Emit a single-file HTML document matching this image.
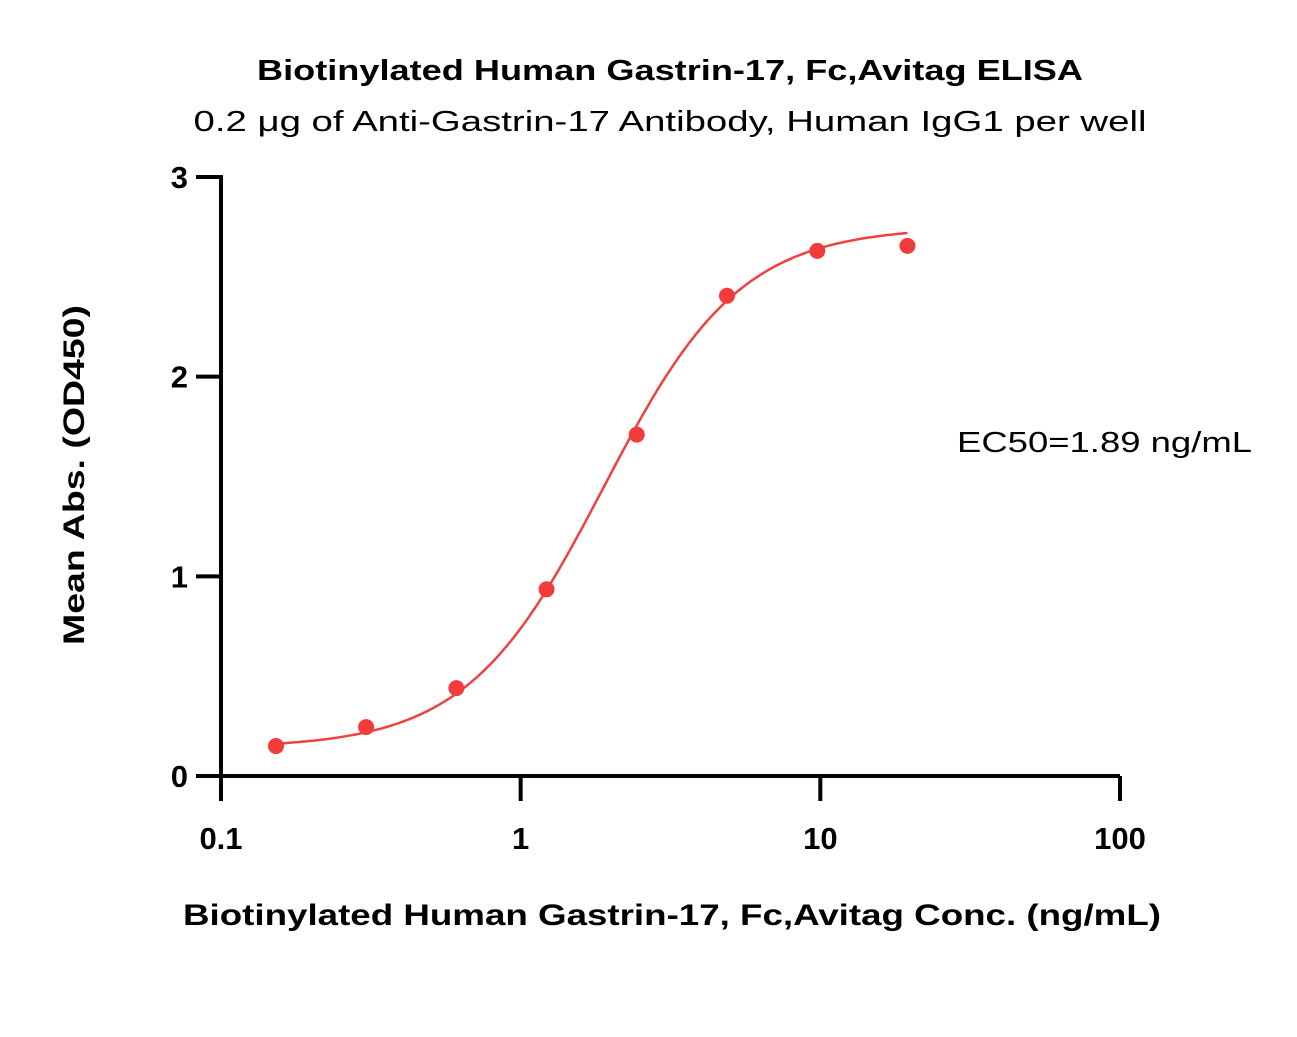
<!DOCTYPE html>
<html><head><meta charset="utf-8"><style>
html,body{margin:0;padding:0;background:#fff}
svg text{font-family:"Liberation Sans",sans-serif;fill:#000}
</style></head><body>
<svg id="chart" width="1297" height="1032" xmlns="http://www.w3.org/2000/svg">
<text x="670" y="80" text-anchor="middle" font-size="29" font-weight="bold" textLength="826" lengthAdjust="spacingAndGlyphs">Biotinylated Human Gastrin-17, Fc,Avitag ELISA</text>
<text x="670" y="131" text-anchor="middle" font-size="29" textLength="953" lengthAdjust="spacingAndGlyphs">0.2 μg of Anti-Gastrin-17 Antibody, Human IgG1 per well</text>
<text transform="translate(84,475) rotate(-90)" text-anchor="middle" font-size="30" font-weight="bold" textLength="340" lengthAdjust="spacingAndGlyphs">Mean Abs. (OD450)</text>
<text x="672" y="925" text-anchor="middle" font-size="30" font-weight="bold" textLength="978" lengthAdjust="spacingAndGlyphs">Biotinylated Human Gastrin-17, Fc,Avitag Conc. (ng/mL)</text>
<text x="957" y="452" font-size="29" textLength="295" lengthAdjust="spacingAndGlyphs">EC50=1.89 ng/mL</text>
<g id="axes"></g>
<g id="plot"></g>
</svg>
<script>
const concs = [0.1526, 0.305, 0.61, 1.22, 2.44, 4.88, 9.77, 19.53];
const absValues = [0.15, 0.245, 0.44, 0.935, 1.71, 2.405, 2.63, 2.655];
const xTicks = [0.1, 1, 10, 100];
const xTickLabels = ["0.1", "1", "10", "100"];
const yTicks = [0, 1, 2, 3];
const yTickLabels = ["0", "1", "2", "3"];
const fitBottom = 0.14, fitTop = 2.75, fitEC50 = 1.89, fitHill = 1.9;

const NS = "http://www.w3.org/2000/svg";
const X0 = 221, X1 = 1120, Y0 = 776, Y1 = 177;
function xs(v){ return X0 + (Math.log10(v) - Math.log10(0.1)) / 3 * (X1 - X0); }
function ys(v){ return Y0 - v / 3 * (Y0 - Y1); }
function mk(tag, attrs, parent){ const e = document.createElementNS(NS, tag); for (const k in attrs) e.setAttribute(k, attrs[k]); parent.appendChild(e); return e; }
const axes = document.getElementById('axes'), plot = document.getElementById('plot');

let l = mk('line', {x1:X0, y1:Y0, x2:X1, y2:Y0, stroke:'#000', 'stroke-width':4}, axes);


l = mk('line', {x1:X0, y1:Y0+2, x2:X0, y2:Y1-2, stroke:'#000', 'stroke-width':4}, axes);



xTicks.forEach((t, i) => {
  const x = xs(t);
  const tk = mk('line', {x1:x, y1:Y0, x2:x, y2:801, stroke:'#000', 'stroke-width':4}, axes);
  
  
  const tx = mk('text', {x:x, y:849, 'text-anchor':'middle', 'font-size':31, 'font-weight':'bold'}, axes);
  tx.textContent = xTickLabels[i];
  
  
});
yTicks.forEach((t, i) => {
  const y = ys(t);
  const tk = mk('line', {x1:196, y1:y, x2:X0, y2:y, stroke:'#000', 'stroke-width':4}, axes);
  
  
  const tx = mk('text', {x:188, y:y+11, 'text-anchor':'end', 'font-size':31, 'font-weight':'bold'}, axes);
  tx.textContent = yTickLabels[i];
  
  
});

let d = '';
const lo = Math.log10(concs[0]), hi = Math.log10(concs[concs.length-1]);
for (let i = 0; i <= 200; i++) {
  const c = Math.pow(10, lo + (hi - lo) * i / 200);
  const v = fitBottom + (fitTop - fitBottom) / (1 + Math.pow(fitEC50 / c, fitHill));
  d += (i ? 'L' : 'M') + xs(c).toFixed(1) + ',' + ys(v).toFixed(1);
}
const curve = mk('path', {d:d, fill:'none', stroke:'#f04040', 'stroke-width':2.5}, plot);



concs.forEach((c, i) => {
  const p = mk('circle', {cx:xs(c), cy:ys(absValues[i]), r:8, fill:'#f23b3b'}, plot);
  
  
});
</script>
</body></html>
